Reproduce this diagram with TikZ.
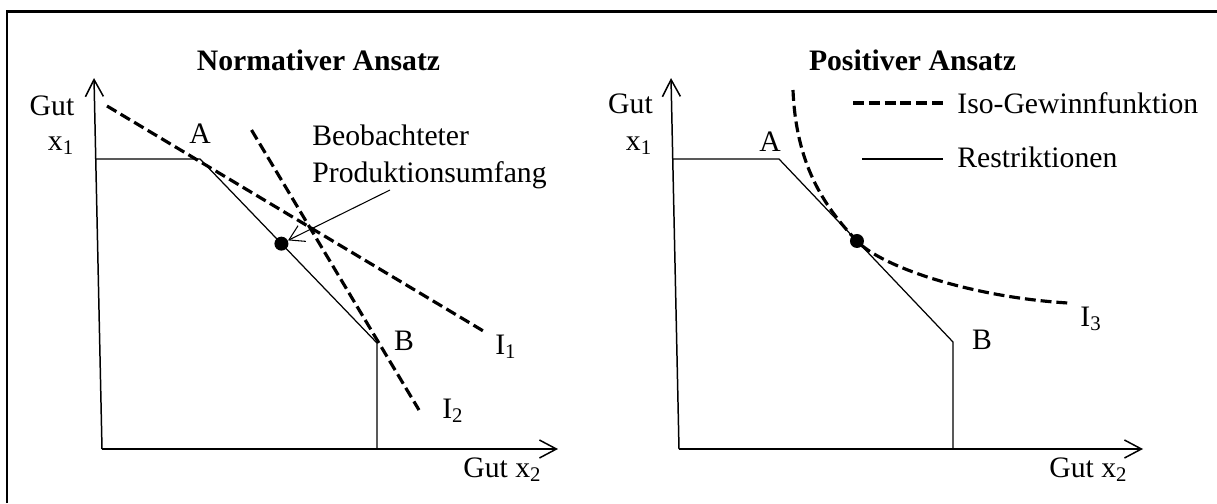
\documentclass[tikz,border=0pt]{standalone}
\usepackage{fontspec}
\setmainfont{Liberation Serif}
\usetikzlibrary{arrows.meta,calc}
\tikzset{
  base/.style={font=\fontsize{16.9}{21}\selectfont, inner sep=0pt, text=black},
  lbl/.style={base, anchor=base},
  ttl/.style={base, anchor=base, font=\fontsize{16.9}{21}\selectfont\bfseries},
  axis/.style={line width=0.85pt, -{Straight Barb[length=3.4mm,width=3.6mm]}},
  restr/.style={line width=0.7pt, line join=miter},
  iso/.style={line width=1.8pt, dash pattern=on 6.2pt off 2.8pt},
  dotpt/.style={circle, fill=black, inner sep=0pt, minimum size=2.8mm},
  arr/.style={line width=0.6pt, -{Straight Barb[length=2.9mm,width=3.5mm]}},
  frame/.style={line width=1.3pt},
}
\begin{document}
\begin{tikzpicture}
  \useasboundingbox (0,0) rectangle (24.34,10.06);
  \draw[frame] (0.14,0) -- (0.14,9.83) -- (24.34,9.83);

  % Normativer Ansatz
  \coordinate (oL) at (2.04,1.08);
  \coordinate (yL) at (1.88,8.50);
  \coordinate (xL) at (11.16,1.08);
  \coordinate (sL) at (1.90,6.88);
  \coordinate (aL) at (4.00,6.88);
  \coordinate (bL) at (7.54,3.20);
  \coordinate (fL) at (7.54,1.08);
  \draw[axis] (oL) -- (yL);
  \draw[axis] (oL) -- (xL);
  \draw[restr] (sL) -- (aL) -- (bL) -- (fL);
  \coordinate (i1s) at (2.14,7.94);
  \coordinate (i1e) at (9.70,3.42);
  \coordinate (i2s) at (5.03,7.46);
  \coordinate (i2e) at (8.38,1.86);
  \draw[iso] (i1s) -- (i1e);
  \draw[iso] (i2s) -- (i2e);
  \node[dotpt] (dotL) at ($(aL)!0.46!(bL)$) {};
  \coordinate (ptr) at (7.80,6.26);
  \draw[arr] (ptr) -- (dotL);
  \node[ttl] (ttlL) at (6.37,8.66) {Normativer Ansatz};
  \node[lbl] (gutL) at (1.04,7.76) {Gut};
  \node[lbl] (x1L) at (1.22,7.06) {x\textsubscript{1}};
  \node[lbl] (labAL) at (4.00,7.20) {A};
  \node[lbl] (labBL) at (8.08,3.06) {B};
  \node[lbl, anchor=base west] (labI1) at (9.90,2.98) {I\textsubscript{1}};
  \node[lbl, anchor=base west] (labI2) at (8.84,1.70) {I\textsubscript{2}};
  \node[lbl, anchor=base west] (x2L) at (9.26,0.52) {Gut x\textsubscript{2}};
  \node[base, anchor=north west, align=left] (beob) at (6.24,7.57) {Beobachteter\\Produktionsumfang};

  % Positiver Ansatz
  \coordinate (oR) at (13.58,1.08);
  \coordinate (yR) at (13.42,8.50);
  \coordinate (xR) at (22.86,1.08);
  \coordinate (sR) at (13.44,6.88);
  \coordinate (aR) at (15.58,6.88);
  \coordinate (bR) at (19.06,3.22);
  \coordinate (fR) at (19.06,1.08);
  \coordinate (tanR) at ($(aR)!0.448!(bR)$);
  \coordinate (i3s) at (15.86,8.26);
  \coordinate (i3e) at (21.36,4.00);
  \draw[axis] (oR) -- (yR);
  \draw[axis] (oR) -- (xR);
  \draw[restr] (sR) -- (aR) -- (bR) -- (fR);
  \draw[iso] (i3s) .. controls (15.92,6.80) and (16.45,5.96) .. (tanR)
                   .. controls (17.62,4.73) and (19.40,4.12) .. (i3e);
  \node[dotpt] (dotR) at (tanR) {};
  \node[ttl] (ttlR) at (18.25,8.66) {Positiver Ansatz};
  \node[lbl] (gutR) at (12.61,7.80) {Gut};
  \node[lbl] (x1R) at (12.78,7.06) {x\textsubscript{1}};
  \node[lbl] (labAR) at (15.40,7.04) {A};
  \node[lbl] (labBR) at (19.64,3.08) {B};
  \node[lbl, anchor=base west] (labI3) at (21.60,3.54) {I\textsubscript{3}};
  \node[lbl, anchor=base west] (x2R) at (20.98,0.52) {Gut x\textsubscript{2}};

  % legend
  \coordinate (lgIa) at (17.06,8.00);
  \coordinate (lgIb) at (18.86,8.00);
  \coordinate (lgRa) at (17.24,6.88);
  \coordinate (lgRb) at (18.86,6.88);
  \draw[iso] (lgIa) -- (lgIb);
  \draw[restr] (lgRa) -- (lgRb);
  \node[lbl, anchor=base west] (lgIso) at (19.14,7.80) {Iso-Gewinnfunktion};
  \node[lbl, anchor=base west] (lgRes) at (19.14,6.72) {Restriktionen};
\end{tikzpicture}
\end{document}
